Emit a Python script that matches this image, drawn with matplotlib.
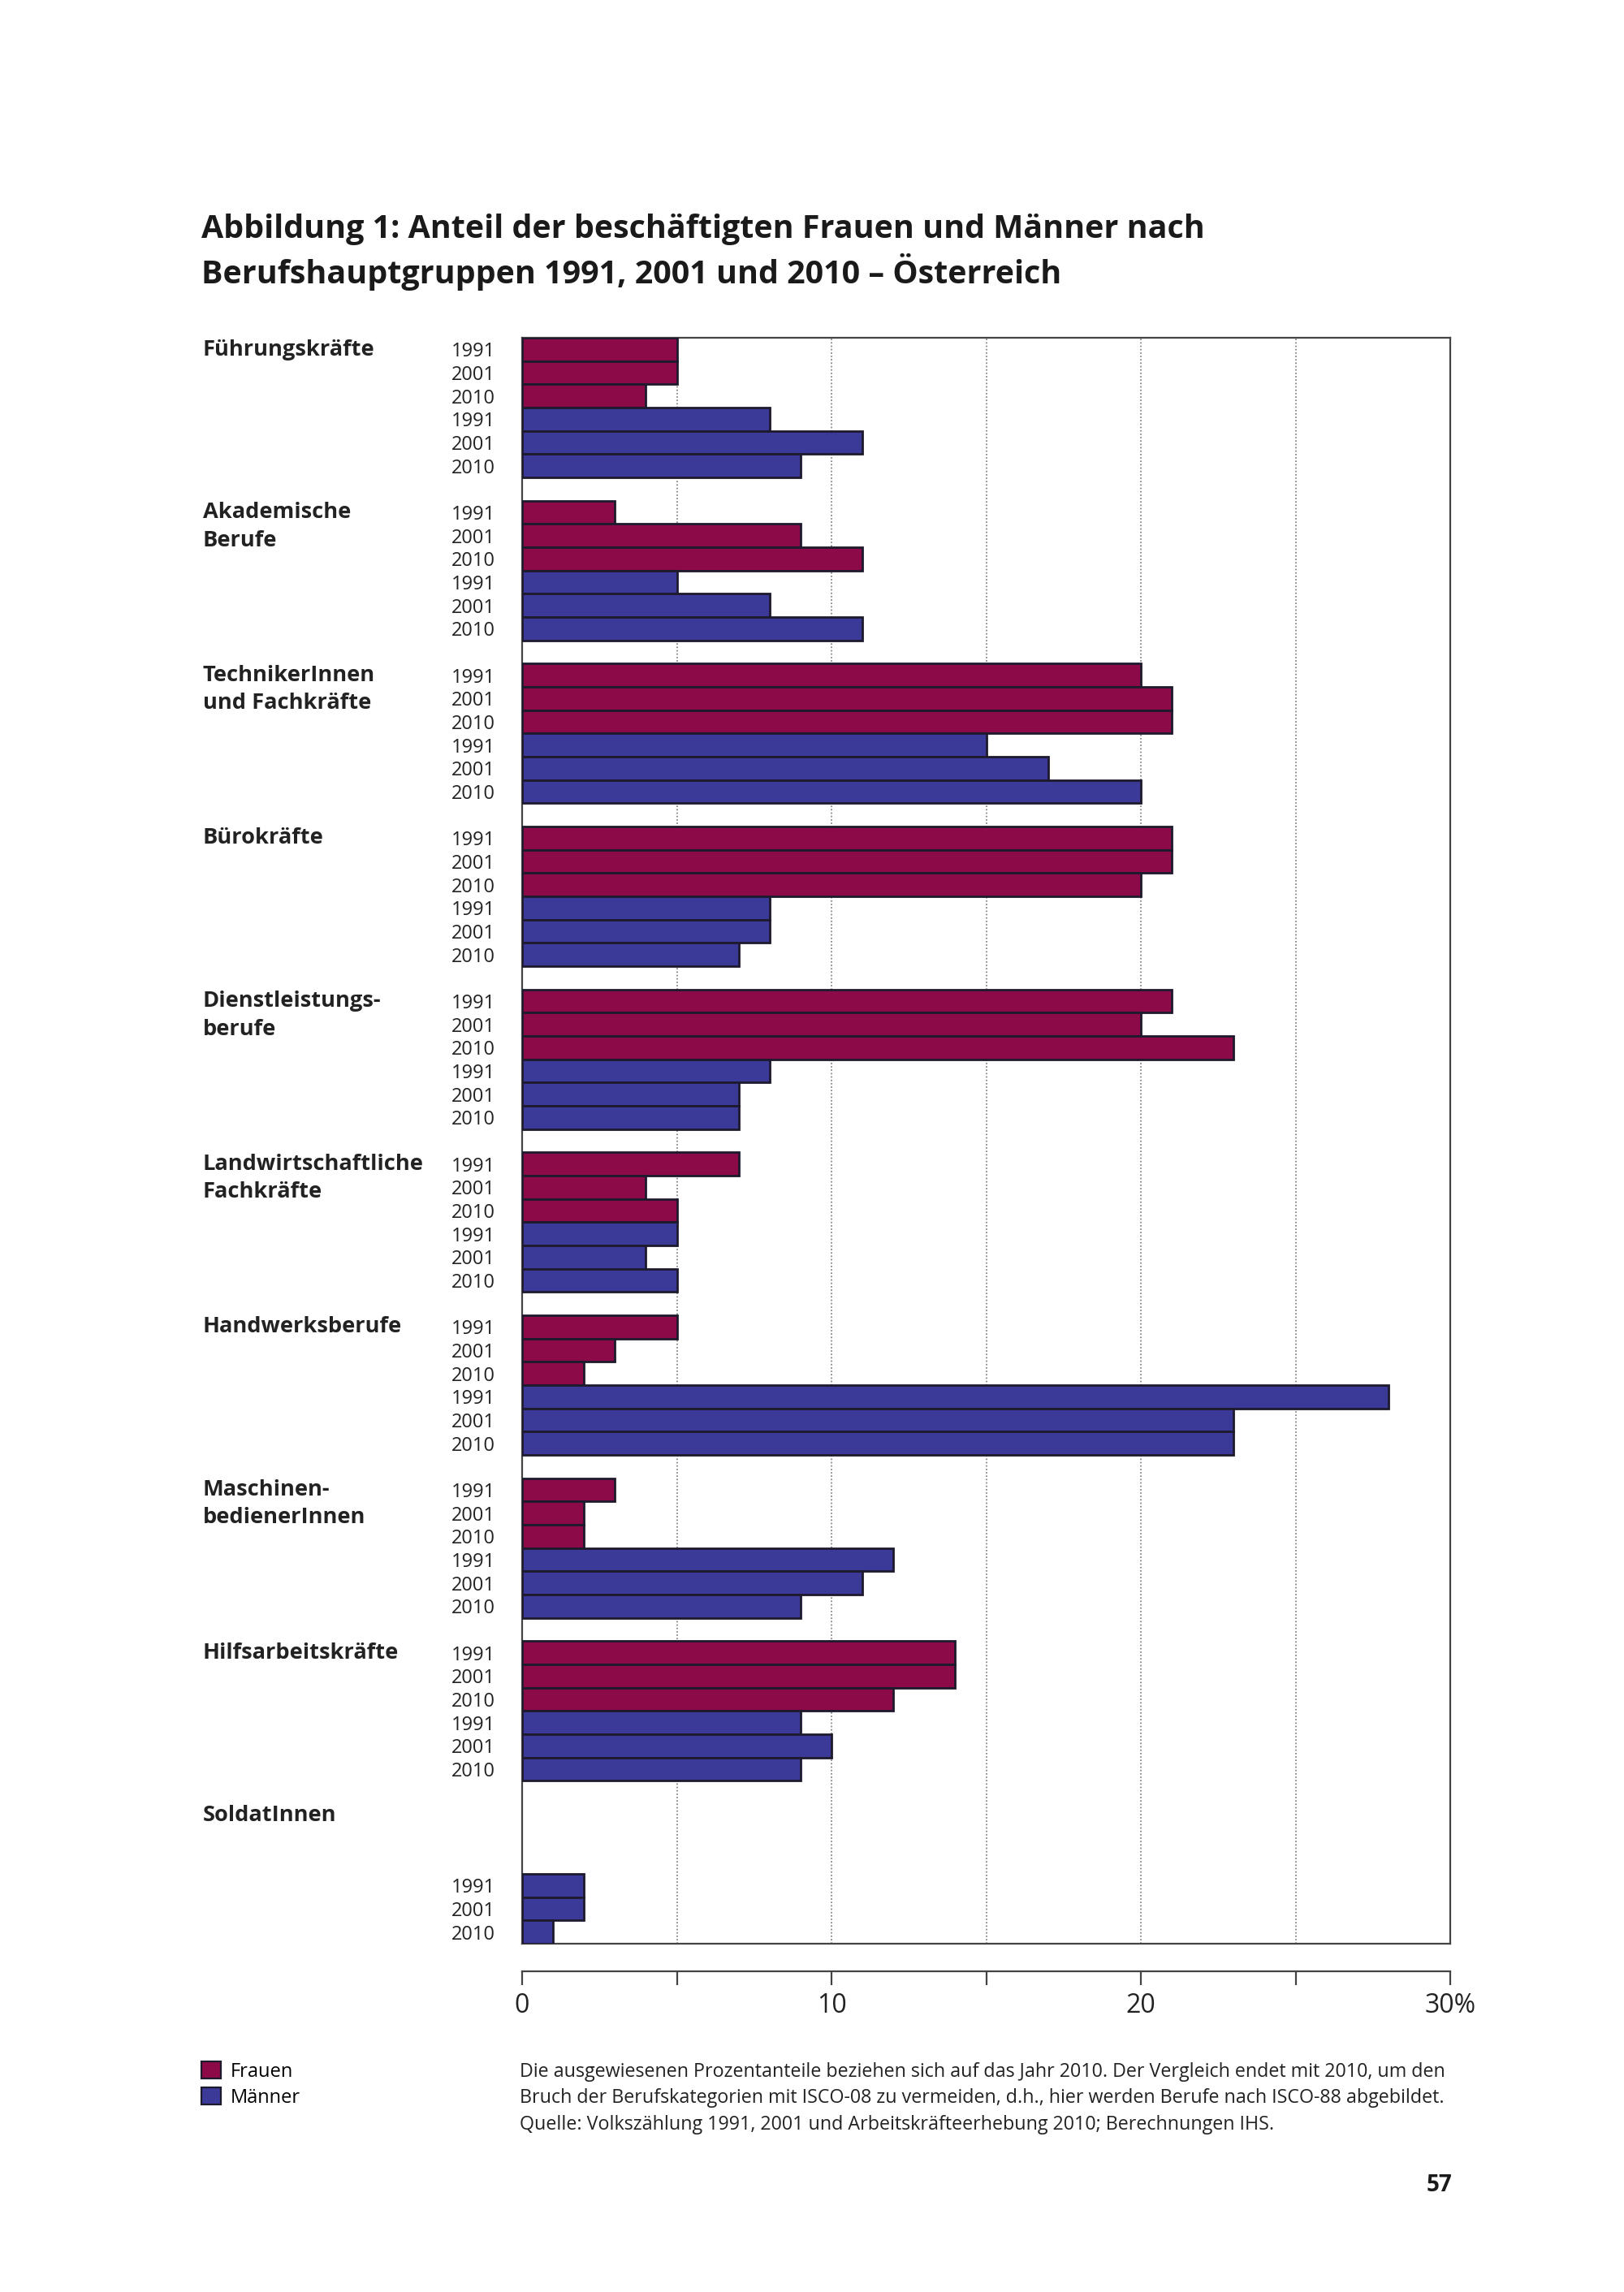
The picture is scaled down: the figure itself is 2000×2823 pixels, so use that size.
import matplotlib
matplotlib.use('Agg')
import matplotlib.pyplot as plt
from matplotlib.transforms import blended_transform_factory
from matplotlib.patches import Patch

plt.rcParams['font.family'] = ['Open Sans', 'DejaVu Sans']

categories = ['Führungskräfte', 'Akademische\nBerufe', 'TechnikerInnen\nund Fachkräfte',
              'Bürokräfte', 'Dienstleistungs-\nberufe', 'Landwirtschaftliche\nFachkräfte',
              'Handwerksberufe', 'Maschinen-\nbedienerInnen', 'Hilfsarbeitskräfte', 'SoldatInnen']
years = ['1991', '2001', '2010']
frauen = [[5, 5, 4], [3, 9, 11], [20, 21, 21], [21, 21, 20], [21, 20, 23],
          [7, 4, 5], [5, 3, 2], [3, 2, 2], [14, 14, 12], [None, None, None]]
maenner = [[8, 11, 9], [5, 8, 11], [15, 17, 20], [8, 8, 7], [8, 7, 7],
           [5, 4, 5], [28, 23, 23], [12, 11, 9], [9, 10, 9], [2, 2, 1]]
xticks = [0, 5, 10, 15, 20, 25, 30]
xticklabels = ['0', '', '10', '', '20', '', '30%']

col_f = '#8c0a47'
col_m = '#3c3a98'
edge = '#1e1a2e'

fig = plt.figure(figsize=(10, 14.115), dpi=200)
L, R, T, B = 0.3215, 0.893, 0.8526, 0.152
ax = fig.add_axes([L, B, R - L, T - B])

slots_per_group = 7
ypos, ylabels = [], []
for g, cat in enumerate(categories):
    start = g * slots_per_group
    for k in range(3):
        v = frauen[g][k]
        if v is not None:
            y = start + k + 0.5
            ax.barh(y, v, height=1.0, color=col_f, edgecolor=edge, linewidth=1.0, zorder=3)
            ypos.append(y)
            ylabels.append(years[k])
    for k in range(3):
        v = maenner[g][k]
        y = start + 3 + k + 0.5
        ax.barh(y, v, height=1.0, color=col_m, edgecolor=edge, linewidth=1.0, zorder=3)
        ypos.append(y)
        ylabels.append(years[k])

ntot = len(categories) * slots_per_group - 1
ax.set_ylim(ntot, 0)
ax.set_xlim(0, 30)
ax.set_yticks(ypos)
ax.set_yticklabels(ylabels, fontsize=8.5, color='#222222')
ax.tick_params(axis='y', length=0, pad=12)
ax.set_xticks([])
for x in xticks[1:-1]:
    ax.axvline(x, color='#777777', linestyle=(0, (1, 1.5)), linewidth=0.6, zorder=1)
for s in ax.spines.values():
    s.set_color('#444444')
    s.set_linewidth(0.8)

tr = blended_transform_factory(fig.transFigure, ax.transData)
for g, cat in enumerate(categories):
    ax.text(0.125, g * slots_per_group + 0.05, cat, transform=tr, ha='left', va='top',
            fontsize=9.8, fontweight='bold', color='#222222', linespacing=1.42)

# separate scale axis below
ax2 = fig.add_axes([L, 0.1399, R - L, 0.0005])
ax2.set_xlim(0, 30)
ax2.set_yticks([])
for name in ['top', 'left', 'right']:
    ax2.spines[name].set_visible(False)
ax2.spines['bottom'].set_color('#444444')
ax2.spines['bottom'].set_linewidth(0.8)
ax2.set_xticks(xticks)
ax2.set_xticklabels(xticklabels, fontsize=11.5, color='#222222')
ax2.tick_params(axis='x', direction='out', length=6, width=0.8, color='#444444', pad=3.5)

# title
fig.text(0.124, 0.8998, 'Abbildung 1: Anteil der beschäftigten Frauen und Männer nach',
         fontsize=14.2, fontweight='bold', color='#1a1a1a', va='center', ha='left')
fig.text(0.124, 0.8813, 'Berufshauptgruppen 1991, 2001 und 2010 – Österreich',
         fontsize=14.2, fontweight='bold', color='#1a1a1a', va='center', ha='left')

# legend
handles = [Patch(facecolor=col_f, edgecolor=edge, linewidth=0.8, label='Frauen'),
           Patch(facecolor=col_m, edgecolor=edge, linewidth=0.8, label='Männer')]
fig.legend(handles=handles, loc='upper left', bbox_to_anchor=(0.124, 0.1005), frameon=False,
           fontsize=8.5, handlelength=1.0, handleheight=1.0, handletextpad=0.5,
           labelspacing=0.3, borderpad=0, borderaxespad=0)

# footnote
notes = ['Die ausgewiesenen Prozentanteile beziehen sich auf das Jahr 2010. Der Vergleich endet mit 2010, um den',
         'Bruch der Berufskategorien mit ISCO-08 zu vermeiden, d.h., hier werden Berufe nach ISCO-88 abgebildet.',
         'Quelle: Volkszählung 1991, 2001 und Arbeitskräfteerhebung 2010; Berechnungen IHS.']
for i, line in enumerate(notes):
    fig.text(0.32, 0.0960 - i * 0.01147, line, fontsize=8.4, color='#222222', va='center', ha='left')

fig.text(0.894, 0.0467, '57', fontsize=10, fontweight='bold', color='#1a1a1a', ha='right', va='center')

fig.savefig('out.png', dpi=200, facecolor='white')
